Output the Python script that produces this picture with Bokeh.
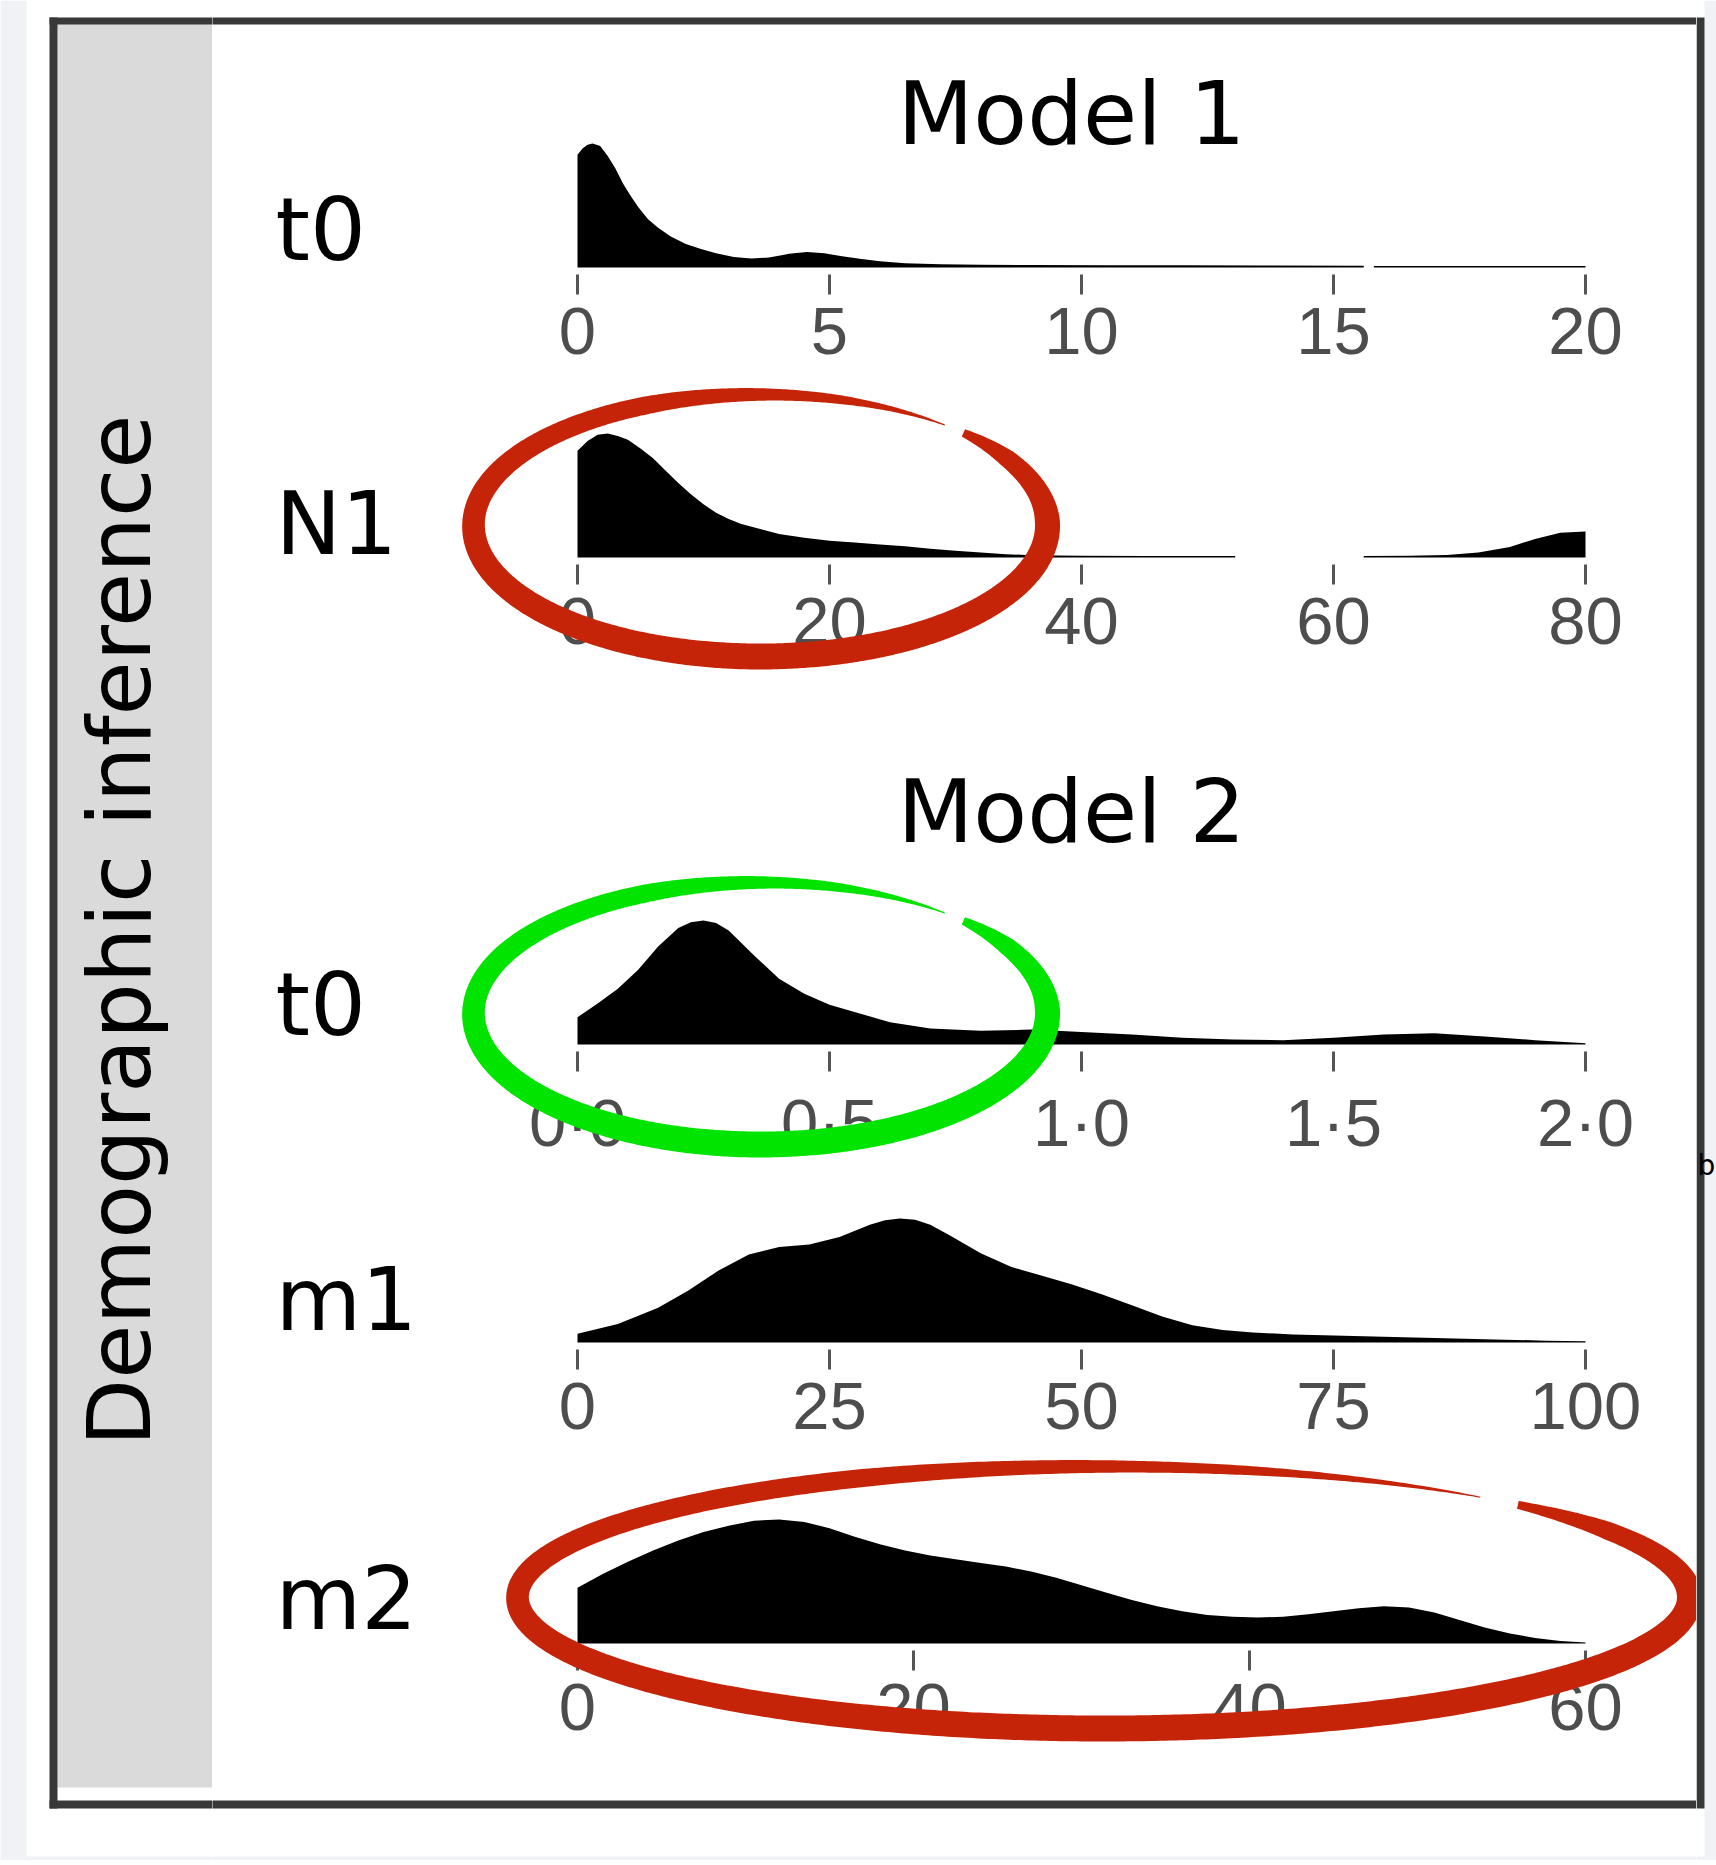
import numpy as np
from bokeh.plotting import figure
from bokeh.models import Range1d, FixedTicker, CustomJSTickFormatter
from bokeh.layouts import row, column
from bokeh.embed import file_html
from bokeh.resources import INLINE
from bokeh.core.properties import value

NAN = float("nan")

# ---------------- data (densities, peak normalised to 1) ----------------
m1_t0_x = [0, 0.1, 0.2, 0.3, 0.45, 0.6, 0.75, 0.9, 1.05, 1.2, 1.4, 1.6, 1.85, 2.15, 2.45, 2.75, 3.1, 3.45,
           3.8, 4.2, 4.55, 4.9, 5.25, 5.6, 6.0, 6.5, 7.2, 8.0, 9.0, 10.5, 12.0, 13.5, 15.6, NAN, 15.8, 17.0, 18.5, 20.0]
m1_t0_y = [0.91, 0.96, 0.99, 1.0, 0.98, 0.9, 0.8, 0.68, 0.58, 0.49, 0.39, 0.32, 0.25, 0.19, 0.15, 0.115, 0.085, 0.072,
           0.08, 0.11, 0.125, 0.115, 0.09, 0.07, 0.05, 0.035, 0.026, 0.022, 0.02, 0.019, 0.018, 0.016, 0.014, NAN, 0.013, 0.013, 0.012, 0.012]

n1_x = [0, 0.8, 1.6, 2.4, 3.2, 4.0, 5.0, 6.0, 7.0, 8.0, 9.0, 10.0, 11.0, 12.0, 13.0, 14.5, 16.0, 18.0, 20.0, 22.0,
        24.0, 26.0, 28.0, 30.0, 32.0, 34.0, 36.0, 40.0, 45.0, 52.2, NAN, 62.4, 66.0, 69.0, 71.5, 74.0, 76.0, 78.0, 80.0]
n1_y = [0.86, 0.94, 0.99, 1.0, 0.98, 0.95, 0.88, 0.8, 0.7, 0.6, 0.51, 0.43, 0.36, 0.31, 0.27, 0.23, 0.19, 0.16, 0.135, 0.12,
        0.105, 0.09, 0.07, 0.055, 0.04, 0.026, 0.019, 0.015, 0.013, 0.012, NAN, 0.012, 0.014, 0.02, 0.04, 0.085, 0.15, 0.2, 0.21]

m2_t0_x = [0, 0.04, 0.08, 0.12, 0.16, 0.2, 0.225, 0.25, 0.275, 0.3, 0.35, 0.4, 0.45, 0.5, 0.56, 0.62, 0.7, 0.8, 0.9, 1.0,
           1.1, 1.2, 1.3, 1.4, 1.5, 1.6, 1.7, 1.8, 1.9, 2.0]
m2_t0_y = [0.22, 0.33, 0.45, 0.6, 0.79, 0.94, 0.985, 1.0, 0.98, 0.92, 0.72, 0.53, 0.41, 0.32, 0.25, 0.18, 0.13, 0.11, 0.12, 0.1,
           0.08, 0.055, 0.04, 0.035, 0.055, 0.08, 0.09, 0.065, 0.035, 0.01]

m1_x = [0, 4, 8, 11, 14, 17, 20, 23, 26, 29, 30.5, 32, 33.5, 35, 37, 40, 43, 46, 49, 52, 55, 58, 61, 64, 67, 71, 76,
        81, 86, 91, 96, 100]
m1_y = [0.07, 0.15, 0.28, 0.42, 0.58, 0.71, 0.77, 0.79, 0.85, 0.95, 0.985, 1.0, 0.99, 0.95, 0.86, 0.72, 0.61, 0.54,
        0.47, 0.39, 0.3, 0.21, 0.14, 0.1, 0.08, 0.065, 0.055, 0.045, 0.035, 0.025, 0.015, 0.01]

m2_x = [0, 1.5, 3, 4.5, 6, 7.5, 9, 10.5, 12, 13.5, 15, 16.5, 18, 19.5, 21, 22.5, 24, 25.5, 27, 28.5, 30, 31.5, 33,
        34.5, 36, 37.5, 39, 40.5, 42, 43.5, 45, 46.5, 48, 49.5, 51, 52.5, 54, 55.5, 57, 58.5, 60]
m2_y = [0.45, 0.56, 0.66, 0.75, 0.83, 0.9, 0.95, 0.99, 1.0, 0.98, 0.93, 0.86, 0.8, 0.75, 0.71, 0.68, 0.65, 0.62, 0.58,
        0.53, 0.47, 0.41, 0.35, 0.3, 0.26, 0.23, 0.215, 0.21, 0.215, 0.235, 0.26, 0.285, 0.3, 0.29, 0.25, 0.19, 0.13,
        0.08, 0.045, 0.02, 0.008]

row_labels = ["t0", "N1", "t0", "m1", "m2"]
x_maxes = [20, 80, 2, 100, 60]
ticks = [[0, 5, 10, 15, 20], [0, 20, 40, 60, 80], [0, 0.5, 1.0, 1.5, 2.0], [0, 25, 50, 75, 100], [0, 20, 40, 60]]
titles = ["Model 1", "Model 2"]
strip_label = "Demographic inference"
stray_text = "b"

# ---------------- layout (page pixels) ----------------
TOTAL_W, TOTAL_H = 1716, 1860
STRIP_R, PANEL_R = 212, 1696
X0_PX, XMAX_PX = 577, 1585
PEAK_PX = 124
FRAME_GAP = 27          # baseline -> frame bottom (ticks drawn inward)
rows_px = [(0, 267, 395), (395, 557, 700), (700, 1044, 1175), (1175, 1342, 1475), (1475, 1643, TOTAL_H)]
BIG = 88
FIX_RATIO = 0.386       # renderer's alphabetic-baseline offset, measured (fraction of font size)
FIX = FIX_RATIO * BIG
label_base = [263, 557, 1038, 1333, 1632]
LABEL_X = 275
title_pos = [(0, 1071, 147), (2, 1071, 845)]
BORDER = "#383838"
PAGEBG = "#f0f2f6"
ellipses = [  # cx, cy, a, b, colour (page px)
    (760, 525, 287, 131, "#c62408"),
    (760, 1013, 287, 131, "#00e400"),
    (1103, 1597, 586, 131, "#c62408"),
]
W_S = [0, 0.04, 0.12, 0.4, 0.62, 0.82, 0.93, 1.0]
W_V = [8, 18, 25, 26, 23, 18, 9, 1]


def brush_ellipse(cx, cy, a, b, start_deg=45.0, sweep_deg=-355.0, n=700):
    s = np.linspace(0, 1, n)
    t = np.radians(start_deg + sweep_deg * s)
    px = cx + a * np.cos(t)
    py = cy - b * np.sin(t)
    nx = b * np.cos(t)
    ny = -a * np.sin(t)
    nn = np.hypot(nx, ny)
    nx, ny = nx / nn, ny / nn
    w = np.interp(s, W_S, W_V) / 2.0
    xs = np.concatenate([px + nx * w, (px - nx * w)[::-1]])
    ys = np.concatenate([py + ny * w, (py - ny * w)[::-1]])
    return xs.tolist(), ys.tolist()


def split_nan(xs, ys):
    segs, cx, cy = [], [], []
    for a, b in zip(xs, ys):
        if a != a:
            segs.append((cx, cy))
            cx, cy = [], []
        else:
            cx.append(a)
            cy.append(b)
    segs.append((cx, cy))
    return segs


series = [(m1_t0_x, m1_t0_y), (n1_x, n1_y), (m2_t0_x, m2_t0_y), (m1_x, m1_y), (m2_x, m2_y)]
ellipse_shapes = [(brush_ellipse(cx, cy, a, b), col) for (cx, cy, a, b, col) in ellipses]

panels = []
for i, (top, base, bottom) in enumerate(rows_px):
    xmax = x_maxes[i]
    B = base + FRAME_GAP
    upp = xmax / (XMAX_PX - X0_PX)
    p = figure(width=PANEL_R - STRIP_R, height=bottom - top,
               x_range=Range1d((STRIP_R - X0_PX) * upp, (PANEL_R - X0_PX) * upp),
               y_range=Range1d(-FRAME_GAP / PEAK_PX, (base - top) / PEAK_PX),
               y_axis_type=None, toolbar_location=None, output_backend="svg",
               min_border_left=0, min_border_right=0, min_border_top=0,
               min_border_bottom=bottom - B, outline_line_color=None,
               background_fill_color="white", border_fill_color="white")
    p.extra_x_ranges = {"px": Range1d(STRIP_R, PANEL_R)}
    p.extra_y_ranges = {"px": Range1d(start=B, end=top)}
    p.grid.visible = False

    ax = p.xaxis[0]
    ax.ticker = FixedTicker(ticks=ticks[i])
    ax.axis_line_color = None
    ax.major_tick_in = 20
    ax.major_tick_out = 0
    ax.major_tick_line_color = "#555555"
    ax.major_tick_line_width = 3
    ax.minor_tick_line_color = None
    ax.major_label_text_font = "Liberation Sans"
    ax.major_label_text_font_size = "67px"
    ax.major_label_text_color = "#4d4d4d"
    ax.major_label_standoff = 13
    if i == 2:
        ax.formatter = CustomJSTickFormatter(code="return tick.toFixed(1).replace('.', '\u00b7');")

    xs, ys = series[i]
    for sx, sy in split_nan(xs, ys):
        p.varea(x=sx, y1=[0] * len(sx), y2=sy, fill_color="black")

    p.text(x=[LABEL_X], y=[label_base[i] - FIX], text=[row_labels[i]], text_font=value("DejaVu Sans"),
           text_font_size=value(f"{BIG}px"), text_align="left", text_baseline="alphabetic",
           text_color="black", x_range_name="px", y_range_name="px", level="overlay")
    for (pi, tx, ty), tt in zip(title_pos, titles):
        if pi == i:
            p.text(x=[tx], y=[ty - FIX], text=[tt], text_font=value("DejaVu Sans"),
                   text_font_size=value(f"{BIG}px"), text_align="center", text_baseline="alphabetic",
                   text_color="black", x_range_name="px", y_range_name="px", level="overlay")
    if i == 0:
        p.quad(left=[STRIP_R], right=[PANEL_R], top=[17], bottom=[24], fill_color=BORDER,
               line_color=None, x_range_name="px", y_range_name="px", level="overlay")
    if i == 4:
        p.quad(left=[STRIP_R], right=[PANEL_R], top=[1800], bottom=[1808], fill_color=BORDER,
               line_color=None, x_range_name="px", y_range_name="px", level="overlay")
        p.quad(left=[STRIP_R], right=[PANEL_R], top=[1856], bottom=[TOTAL_H], fill_color=PAGEBG,
               line_color=None, x_range_name="px", y_range_name="px", level="overlay")
    for (ex, ey), col in ellipse_shapes:
        p.patch(ex, ey, fill_color=col, line_color=None, x_range_name="px",
                y_range_name="px", level="overlay")
    panels.append(p)

# ---------------- left strip ----------------
strip = figure(width=STRIP_R, height=TOTAL_H, x_range=Range1d(0, STRIP_R), y_range=Range1d(TOTAL_H, 0),
               x_axis_type=None, y_axis_type=None, toolbar_location=None, output_backend="svg",
               min_border=0, outline_line_color=None, background_fill_color="white",
               border_fill_color="white")
strip.grid.visible = False
strip.quad(left=[0, 0], right=[26, STRIP_R], top=[0, 1856], bottom=[TOTAL_H, TOTAL_H],
           fill_color=PAGEBG, line_color=None)
strip.quad(left=[57], right=[STRIP_R], top=[20], bottom=[1787], fill_color="#dadada", line_color=None)
strip.quad(left=[49, 49, 49], right=[57, STRIP_R, STRIP_R], top=[17, 17, 1800], bottom=[1808, 24, 1808],
           fill_color=BORDER, line_color=None)
strip.text(x=[153 - FIX], y=[930], text=[strip_label], angle=np.pi / 2, text_font=value("DejaVu Sans"),
           text_font_size=value(f"{BIG}px"), text_align="center", text_baseline="alphabetic",
           text_color="black")

# ---------------- right edge ----------------
right = figure(width=TOTAL_W - PANEL_R, height=TOTAL_H, x_range=Range1d(PANEL_R, TOTAL_W),
               y_range=Range1d(TOTAL_H, 0),
               x_axis_type=None, y_axis_type=None, toolbar_location=None, output_backend="svg",
               min_border=0, outline_line_color=None, background_fill_color="white",
               border_fill_color="white")
right.grid.visible = False
right.quad(left=[1704, PANEL_R], right=[TOTAL_W, TOTAL_W], top=[0, 1856], bottom=[TOTAL_H, TOTAL_H],
           fill_color=PAGEBG, line_color=None)
right.quad(left=[PANEL_R], right=[1704], top=[17], bottom=[1808], fill_color=BORDER, line_color=None)
right.text(x=[1697], y=[1176 - FIX_RATIO * 28], text=[stray_text], text_font=value("DejaVu Sans"),
           text_font_size=value("28px"), text_align="left", text_baseline="alphabetic",
           text_color="black")

layout = row(strip, column(*panels, spacing=0), right, spacing=0)

open("out.html", "w").write(file_html(layout, INLINE))
